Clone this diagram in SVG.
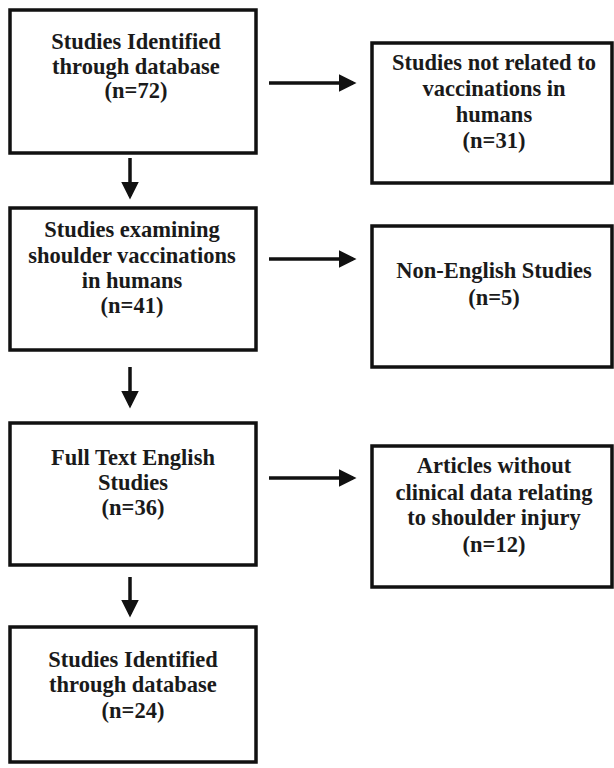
<svg xmlns="http://www.w3.org/2000/svg" width="614" height="768" viewBox="0 0 614 768">
<defs>
<style>
.box{fill:#fff;stroke:#111;stroke-width:3.5}
.t{font-family:"Liberation Serif","Times New Roman",serif;font-weight:bold;font-size:22.5px;fill:#1a1a1a;text-anchor:middle}
.c{stroke:#111;stroke-width:3.5;fill:none}
</style>
<marker id="ah" markerWidth="5" markerHeight="5" refX="4" refY="2.5" orient="auto" markerUnits="strokeWidth">
<path d="M0,0 L5,2.5 L0,5 Z" fill="#111"/>
</marker>
</defs>
<rect width="614" height="768" fill="#fff"/>
<g id="connectors">
<line class="c" x1="130" y1="158" x2="130" y2="196" marker-end="url(#ah)"/>
<line class="c" x1="130" y1="367" x2="130" y2="405" marker-end="url(#ah)"/>
<line class="c" x1="130" y1="577" x2="130" y2="614" marker-end="url(#ah)"/>
<line class="c" x1="269" y1="83" x2="353" y2="83" marker-end="url(#ah)"/>
<line class="c" x1="269" y1="259" x2="353" y2="259" marker-end="url(#ah)"/>
<line class="c" x1="269" y1="478" x2="353" y2="478" marker-end="url(#ah)"/>
</g>
<g id="n1">
<rect class="box" x="10" y="10" width="246" height="143"/>
<text class="t" x="136" y="49">Studies Identified</text>
<text class="t" x="136" y="74">through database</text>
<text class="t" x="136" y="98">(n=72)</text>
</g>
<g id="n2">
<rect class="box" x="10" y="208" width="246" height="142"/>
<text class="t" x="132" y="237">Studies examining</text>
<text class="t" x="132" y="263">shoulder vaccinations</text>
<text class="t" x="132" y="288">in humans</text>
<text class="t" x="132" y="313">(n=41)</text>
</g>
<g id="n3">
<rect class="box" x="10" y="423" width="246" height="142"/>
<text class="t" x="133" y="465">Full Text English</text>
<text class="t" x="133" y="490">Studies</text>
<text class="t" x="133" y="515">(n=36)</text>
</g>
<g id="n4">
<rect class="box" x="10" y="627" width="246" height="135"/>
<text class="t" x="133" y="667">Studies Identified</text>
<text class="t" x="133" y="692">through database</text>
<text class="t" x="133" y="718">(n=24)</text>
</g>
<g id="r1">
<rect class="box" x="372" y="43" width="240" height="140"/>
<text class="t" x="494" y="70">Studies not related to</text>
<text class="t" x="494" y="96">vaccinations in</text>
<text class="t" x="494" y="122">humans</text>
<text class="t" x="494" y="148">(n=31)</text>
</g>
<g id="r2">
<rect class="box" x="372" y="226" width="240" height="141"/>
<text class="t" x="494" y="278">Non-English Studies</text>
<text class="t" x="494" y="305">(n=5)</text>
</g>
<g id="r3">
<rect class="box" x="372" y="446" width="240" height="141"/>
<text class="t" x="494" y="473">Articles without</text>
<text class="t" x="494" y="500">clinical data relating</text>
<text class="t" x="494" y="525">to shoulder injury</text>
<text class="t" x="494" y="552">(n=12)</text>
</g>
</svg>
